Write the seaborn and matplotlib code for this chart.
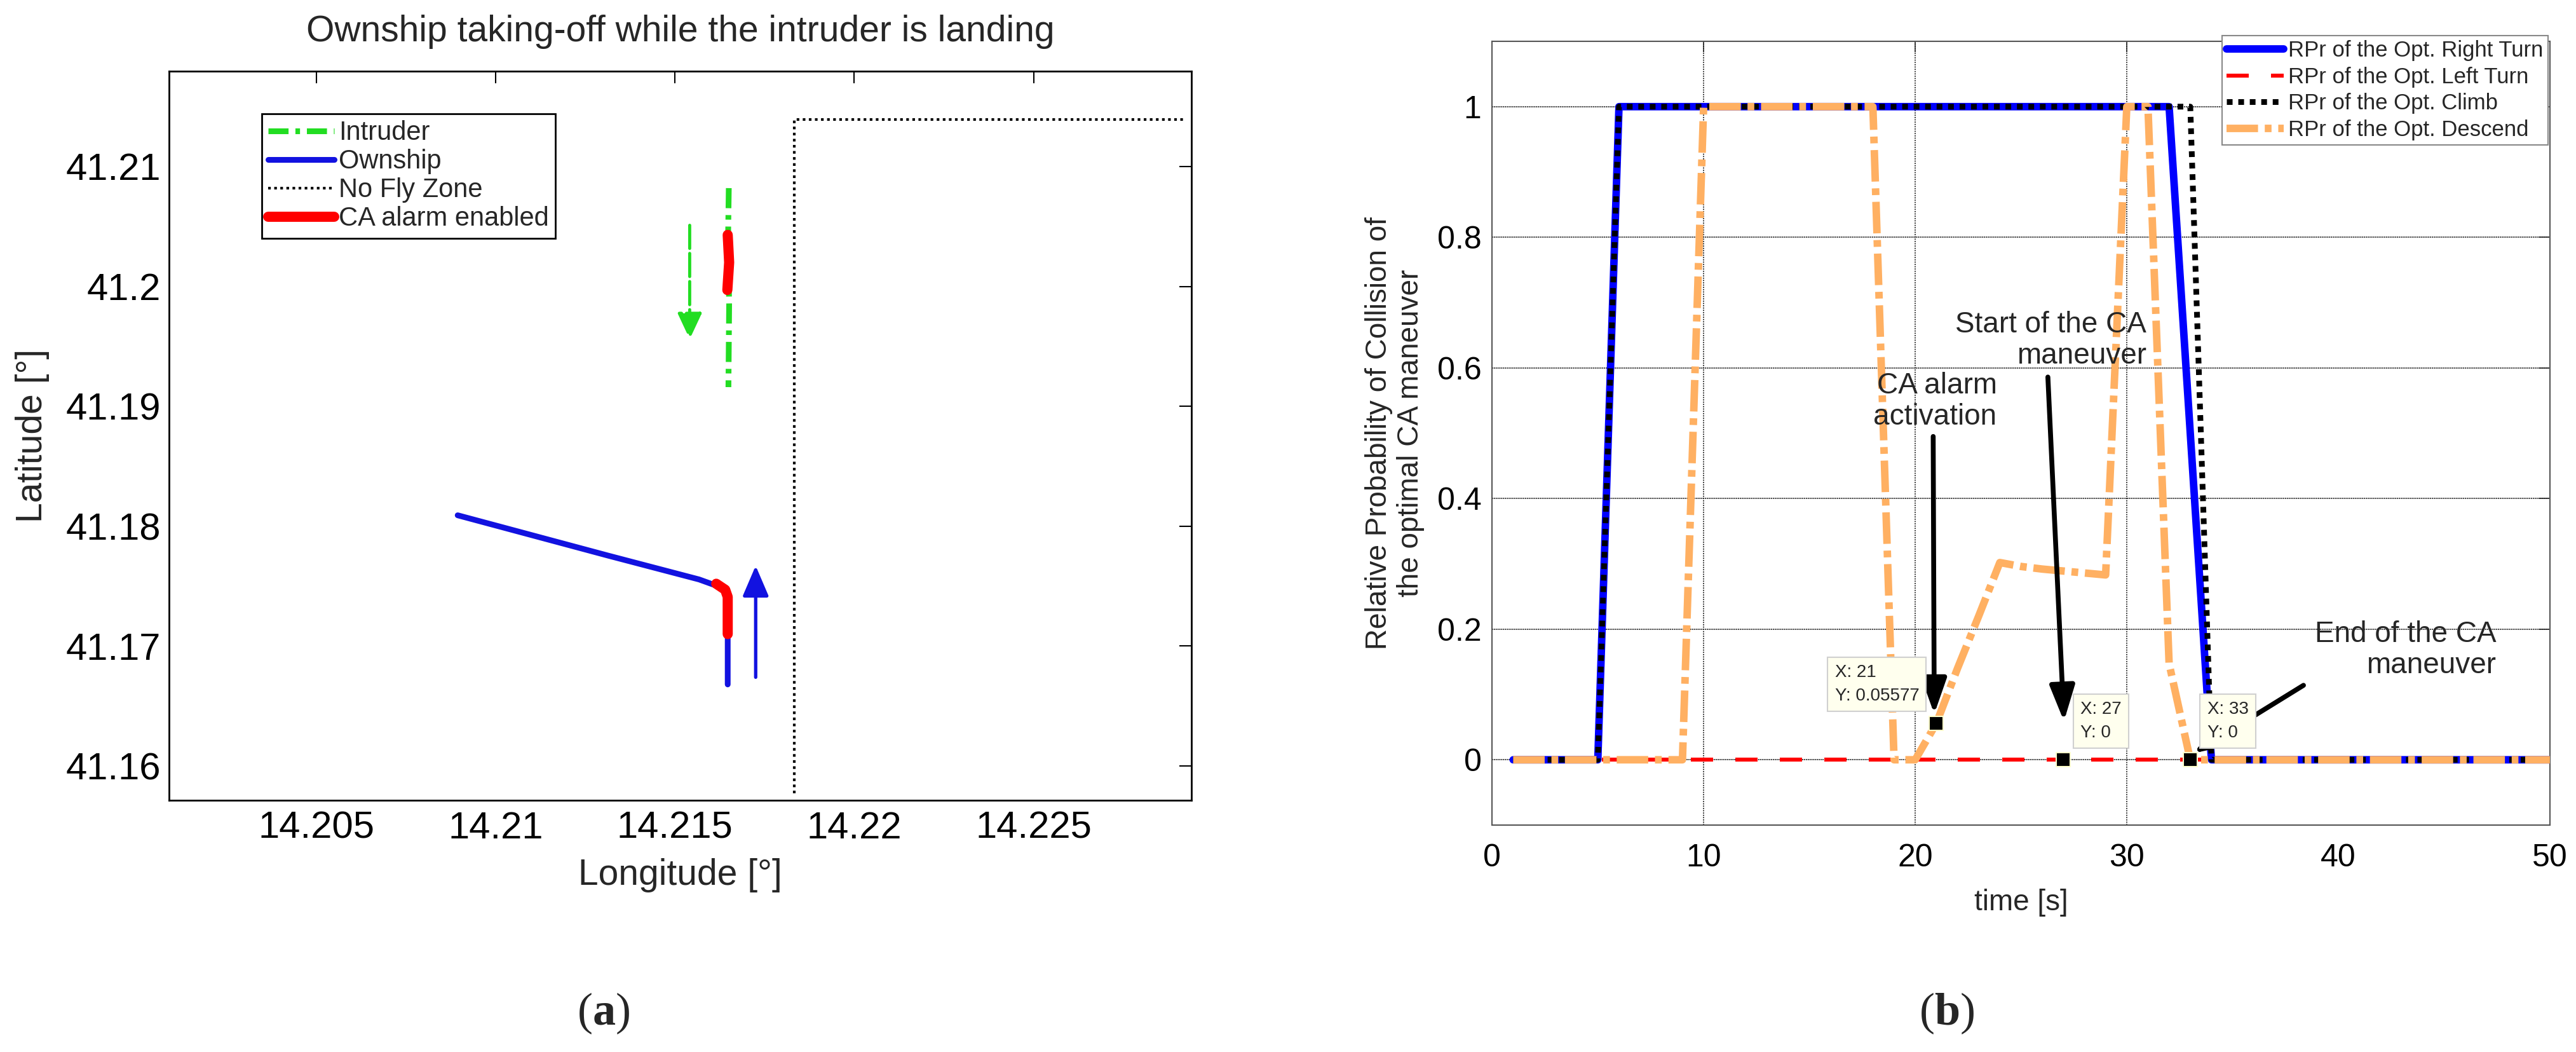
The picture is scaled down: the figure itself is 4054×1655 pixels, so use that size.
import matplotlib
matplotlib.use("Agg")
import matplotlib.pyplot as plt
import seaborn as sns

# panel (a): trajectories
intruder_lon = [14.21650, 14.21648, 14.21651, 14.21649]
intruder_lat = [41.2082, 41.2040, 41.1985, 41.1916]
intruder_ca_lon = [14.21647, 14.21651, 14.21646]
intruder_ca_lat = [41.2043, 41.2020, 41.1997]

ownship_lon = [14.21647, 14.21647, 14.21640, 14.21619, 14.21567, 14.21313, 14.20894]
ownship_lat = [41.1668, 41.1741, 41.1747, 41.1750, 41.17556, 41.17755, 41.18091]
ownship_ca_lon = [14.21647, 14.21647, 14.21640, 14.21615]
ownship_ca_lat = [41.1710, 41.1741, 41.1747, 41.1752]

nfz_lon = [14.21832, 14.21832, 14.2292]
nfz_lat = [41.1577, 41.2139, 41.2139]

intruder_dir_lon = [14.21541, 14.21541]   # tail, tip
intruder_dir_lat = [41.2051, 41.1956]
ownship_dir_lon = [14.21725, 14.21725]
ownship_dir_lat = [41.1674, 41.1767]

lon_ticks = [14.205, 14.21, 14.215, 14.22, 14.225]
lon_labels = ["14.205", "14.21", "14.215", "14.22", "14.225"]
lat_ticks = [41.16, 41.17, 41.18, 41.19, 41.2, 41.21]
lat_labels = ["41.16", "41.17", "41.18", "41.19", "41.2", "41.21"]
legend_a = ["Intruder", "Ownship", "No Fly Zone", "CA alarm enabled"]

# panel (b): relative probability of collision per manoeuvre
time_s = list(range(1, 51))
rpr_right = [0, 0, 0, 0, 0, 1, 1, 1, 1, 1,
             1, 1, 1, 1, 1, 1, 1, 1, 1, 1,
             1, 1, 1, 1, 1, 1, 1, 1, 1, 1,
             1, 1, 0.5, 0, 0, 0, 0, 0, 0, 0,
             0, 0, 0, 0, 0, 0, 0, 0, 0, 0]
rpr_left = [0, 0, 0, 0, 0, 0, 0, 0, 0, 0,
            0, 0, 0, 0, 0, 0, 0, 0, 0, 0,
            0, 0, 0, 0, 0, 0, 0, 0, 0, 0,
            0, 0, 0, 0, 0, 0, 0, 0, 0, 0,
            0, 0, 0, 0, 0, 0, 0, 0, 0, 0]
rpr_climb = [0, 0, 0, 0, 0, 1, 1, 1, 1, 1,
             1, 1, 1, 1, 1, 1, 1, 1, 1, 1,
             1, 1, 1, 1, 1, 1, 1, 1, 1, 1,
             1, 1, 1, 0, 0, 0, 0, 0, 0, 0,
             0, 0, 0, 0, 0, 0, 0, 0, 0, 0]
rpr_descend = [0, 0, 0, 0, 0, 0, 0, 0, 0, 1,
               1, 1, 1, 1, 1, 1, 1, 1, 0, 0,
               0.05577, 0.14, 0.22, 0.302, 0.296, 0.292, 0.289, 0.286, 0.283, 1,
               1, 0.147, 0, 0, 0, 0, 0, 0, 0, 0,
               0, 0, 0, 0, 0, 0, 0, 0, 0, 0]
legend_b = ["RPr of the Opt. Right Turn", "RPr of the Opt. Left Turn",
            "RPr of the Opt. Climb", "RPr of the Opt. Descend"]

time_ticks = [0, 10, 20, 30, 40, 50]
prob_ticks = [0, 0.2, 0.4, 0.6, 0.8, 1]
prob_labels = ["0", "0.2", "0.4", "0.6", "0.8", "1"]
grid_times = [10, 20, 30]

# data tips and text arrows
tip_t = [21, 27, 33]
tip_y = [0.05577, 0, 0]
tip_text = ["X: 21\nY: 0.05577", "X: 27\nY: 0", "X: 33\nY: 0"]
tip_box_t = [16.2, 27.82, 33.8]
tip_box_y = [0.1155, 0.0595, 0.0595]

note_text = ["CA alarm\nactivation", "Start of the CA\nmaneuver", "End of the CA\nmaneuver"]
note_t = [23.86, 30.92, 47.45]
note_y = [0.549, 0.642, 0.168]
note_tail_t = [20.85, 26.27, 38.35]
note_tail_y = [0.495, 0.586, 0.114]
note_tip_t = [20.90, 27.03, 33.15]
note_tip_y = [0.07, 0.059, 0.01]

sns.set_style("white")
plt.rcParams["font.family"] = ["Liberation Sans", "DejaVu Sans"]
plt.rcParams["mathtext.fontset"] = "custom"
plt.rcParams["mathtext.rm"] = "Liberation Serif"
plt.rcParams["mathtext.bf"] = "Liberation Serif:bold"

GREEN = "#22DD22"
BLUE_A = "#1212E0"
BLUE = "#0000FF"
RED = "#FF0000"
ORANGE = "#FFB062"

fig = plt.figure(figsize=(40.54, 16.55), dpi=100)
ax1 = fig.add_axes([0.0656, 0.2393, 0.3969, 0.6930])
ax2 = fig.add_axes([0.5792, 0.2157, 0.4107, 0.7450])

# ---------------- panel (a) ----------------
sns.lineplot(x=intruder_lon, y=intruder_lat, sort=False, estimator=None, ax=ax1,
             color=GREEN, lw=6.5, linestyle=(0, (3.5, 1.2, 0.8, 1.2)))
h_int = ax1.get_lines()[-1]
sns.lineplot(x=ownship_lon, y=ownship_lat, sort=False, estimator=None, ax=ax1,
             color=BLUE_A, lw=6.5)
h_own = ax1.get_lines()[-1]
sns.lineplot(x=nfz_lon, y=nfz_lat, sort=False, estimator=None, ax=ax1,
             color="black", lw=3, linestyle=(0, (1, 1.3)))
h_nfz = ax1.get_lines()[-1]
sns.lineplot(x=intruder_ca_lon, y=intruder_ca_lat, sort=False, estimator=None, ax=ax1,
             color=RED, lw=11.5)
sns.lineplot(x=ownship_ca_lon, y=ownship_ca_lat, sort=False, estimator=None, ax=ax1,
             color=RED, lw=11.5)
h_ca = ax1.get_lines()[-1]

ax1.annotate("", xy=(intruder_dir_lon[1], intruder_dir_lat[1]),
             xytext=(intruder_dir_lon[0], intruder_dir_lat[0]),
             arrowprops=dict(arrowstyle="-|>,head_length=0.6,head_width=0.28", color=GREEN,
                             lw=3.5, linestyle=(0, (7.5, 1.6)), mutation_scale=42,
                             shrinkA=0, shrinkB=0))
ax1.annotate("", xy=(ownship_dir_lon[1], ownship_dir_lat[1]),
             xytext=(ownship_dir_lon[0], ownship_dir_lat[0]),
             arrowprops=dict(arrowstyle="-|>,head_length=0.7,head_width=0.3", color=BLUE_A,
                             lw=3.8, mutation_scale=42, shrinkA=0, shrinkB=0))

ax1.set_xlim(14.20089, 14.2294)
ax1.set_ylim(41.15714, 41.21795)
ax1.set_xticks(lon_ticks)
ax1.set_xticklabels(lon_labels)
ax1.set_yticks(lat_ticks)
ax1.set_yticklabels(lat_labels)
ax1.tick_params(direction="in", top=True, right=True, length=14, width=1.5,
                labelsize=43, colors="black")
ax1.tick_params(axis="x", pad=12)
ax1.tick_params(axis="y", pad=9)
for s in ax1.spines.values():
    s.set_color("black")
    s.set_linewidth(2)
ax1.set_xlabel("Longitude [°]", fontsize=41, va="center")
ax1.xaxis.set_label_coords(0.5, -0.103)
ax1.set_ylabel("Latitude [°]", fontsize=41, va="center")
ax1.yaxis.set_label_coords(-0.1336, 0.5)
ax1.text(0.5, 1.054, "Ownship taking-off while the intruder is landing",
         transform=ax1.transAxes, ha="center", va="center", fontsize=41)

leg1 = ax1.legend([h_int, h_own, h_nfz, h_ca], legend_a, loc="upper left",
                  bbox_to_anchor=(0.0907, 0.9416), borderaxespad=0, fontsize=30,
                  frameon=True, fancybox=False, framealpha=1, edgecolor="black",
                  borderpad=0.25, labelspacing=0.12, handlelength=2.5, handletextpad=0.15)
leg1.get_frame().set_linewidth(2)

# ---------------- panel (b) ----------------
for xv in grid_times:
    ax2.axvline(xv, color="#222222", lw=1.3, linestyle=(0, (1, 1)), zorder=1)
for yv in prob_ticks:
    ax2.axhline(yv, color="#222222", lw=1.3, linestyle=(0, (1, 0.6)), zorder=1)

sns.lineplot(x=time_s, y=rpr_left, ax=ax2, estimator=None, color=RED, lw=4.5,
             linestyle=(0, (5.6, 5.6)), zorder=2)
h_left = ax2.get_lines()[-1]
sns.lineplot(x=time_s, y=rpr_right, ax=ax2, estimator=None, color=BLUE, lw=8.5, zorder=3)
h_right = ax2.get_lines()[-1]
sns.lineplot(x=time_s, y=rpr_climb, ax=ax2, estimator=None, color="black", lw=6.5,
             linestyle=(0, (1, 1)), zorder=4)
h_climb = ax2.get_lines()[-1]
sns.lineplot(x=time_s, y=rpr_descend, ax=ax2, estimator=None, color=ORANGE, lw=8.5,
             linestyle=(0, (4.2, 0.9, 0.9, 0.9)), zorder=5)
h_desc = ax2.get_lines()[-1]

sns.scatterplot(x=tip_t, y=tip_y, ax=ax2, marker="s", s=240, color="black",
                edgecolor="#FFFFCC", linewidth=1.5, zorder=7)

for txt, tx, ty in zip(tip_text, tip_box_t, tip_box_y):
    ax2.text(tx, ty, txt, ha="left", va="center", fontsize=20, linespacing=1.55,
             zorder=9, bbox=dict(boxstyle="square,pad=0.4", fc="#FFFFEE",
                                 ec="#D0D0D0", lw=1.5))

for txt, tx, ty in zip(note_text, note_t, note_y):
    ax2.text(tx, ty, txt, ha="right", va="center", multialignment="right",
             fontsize=33, linespacing=1.15, zorder=8)
for t0, y0, t1, y1 in zip(note_tail_t, note_tail_y, note_tip_t, note_tip_y):
    ax2.annotate("", xy=(t1, y1), xytext=(t0, y0), zorder=6,
                 arrowprops=dict(arrowstyle="-|>,head_length=0.85,head_width=0.3",
                                 color="black", lw=5.5, mutation_scale=40,
                                 shrinkA=0, shrinkB=0))

ax2.set_xlim(0, 50)
ax2.set_ylim(-0.1, 1.1)
ax2.set_xticks(time_ticks)
ax2.set_xticklabels([str(v) for v in time_ticks])
ax2.set_yticks(prob_ticks)
ax2.set_yticklabels(prob_labels)
ax2.tick_params(direction="in", top=True, right=True, length=12, width=1.2,
                labelsize=36, colors="#333333", labelcolor="black")
ax2.tick_params(axis="x", pad=21)
ax2.tick_params(axis="y", pad=12)
for s in ax2.spines.values():
    s.set_color("#555555")
    s.set_linewidth(1.5)
ax2.set_xlabel("time [s]", fontsize=33, va="center")
ax2.xaxis.set_label_coords(0.5, -0.099)
ax2.set_ylabel("Relative Probability of Collision of\nthe optimal CA maneuver",
               fontsize=33, va="center", ha="center", linespacing=1.2)
ax2.yaxis.set_label_coords(-0.0919, 0.5)

leg2 = ax2.legend([h_right, h_left, h_climb, h_desc], legend_b, loc="upper right",
                  bbox_to_anchor=(0.998, 1.0073), borderaxespad=0, fontsize=25,
                  frameon=True, fancybox=False, framealpha=1, edgecolor="#888888",
                  borderpad=0.2, labelspacing=0.25, handlelength=2.6, handletextpad=0.2)
leg2.get_frame().set_linewidth(1.5)
leg2.set_zorder(10)

# panel captions
fig.text(0.2343, 0.0369, r"($\mathbf{a}$)", ha="center", va="center", fontsize=52,
         family="Liberation Serif")
fig.text(0.7558, 0.0369, r"($\mathbf{b}$)", ha="center", va="center", fontsize=52,
         family="Liberation Serif")

fig.savefig("out.png", dpi=100)
